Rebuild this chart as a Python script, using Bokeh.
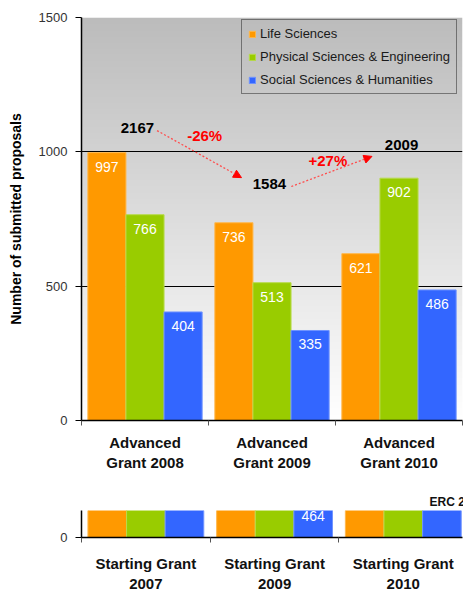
import numpy as np
from bokeh.plotting import figure
from bokeh.layouts import column
from bokeh.models import (Range1d, FixedTicker, ColumnDataSource, Legend, LegendItem,
                          Arrow, NormalHead)
from bokeh.core.properties import value
from bokeh.embed import file_html
from bokeh.resources import INLINE

FONT = "Liberation Sans"

# Advanced Grant calls: submitted proposals per domain
adv_calls = ["Advanced\nGrant 2008", "Advanced\nGrant 2009", "Advanced\nGrant 2010"]
adv_life = [997, 736, 621]
adv_phys = [766, 513, 902]
adv_soc = [404, 335, 486]
adv_change = ["-26%", "+27%"]

# Starting Grant calls: submitted proposals per domain
stg_calls = ["Starting Grant\n2007", "Starting Grant\n2009", "Starting Grant\n2010"]
stg_life = [3384, 860, 1034]
stg_phys = [3897, 1179, 1223]
stg_soc = [1886, 464, 616]

domains = ["Life Sciences", "Physical Sciences & Engineering", "Social Sciences & Humanities"]
colors = ["#FF9900", "#99CC00", "#3366FF"]
edge_colors = ["#FFB84D", "#B8DB4D", "#7094FF"]

offsets = [-0.3, 0.0, 0.3]
bar_w = 0.3
LABEL_DROP = 14  # value labels sit this many pixels under the bar top


def style_axes(fig, calls, y_ticks, centers, n_bounds, standoff):
    fig.xaxis.ticker = FixedTicker(ticks=list(centers), minor_ticks=list(range(n_bounds)))
    fig.xaxis.major_label_overrides = {float(c): lab for c, lab in zip(centers, calls)}
    fig.xaxis.major_tick_out = 0
    fig.xaxis.major_tick_in = 0
    fig.xaxis.minor_tick_out = 5
    fig.xaxis.minor_tick_in = 0
    fig.xaxis.minor_tick_line_color = "#555555"
    fig.xaxis.major_label_standoff = standoff
    fig.xaxis.major_label_text_font = FONT
    fig.xaxis.major_label_text_font_size = "15px"
    fig.xaxis.major_label_text_font_style = "bold"
    fig.xaxis.major_label_text_color = "#111111"
    fig.xaxis.axis_line_color = "black"
    fig.xaxis.axis_line_width = 1.5

    fig.yaxis.ticker = FixedTicker(ticks=y_ticks)
    fig.yaxis.minor_tick_line_color = None
    fig.yaxis.major_tick_out = 6
    fig.yaxis.major_tick_in = 0
    fig.yaxis.major_tick_line_color = "black"
    fig.yaxis.major_label_standoff = 8
    fig.yaxis.major_label_text_font = FONT
    fig.yaxis.major_label_text_font_size = "13px"
    fig.yaxis.major_label_text_color = "#333333"
    fig.yaxis.axis_line_color = "black"
    fig.yaxis.axis_line_width = 1.5


def draw_bars(fig, series_list, centers, label_max=None):
    items = []
    for series, color, edge, off, name in zip(series_list, colors, edge_colors, offsets, domains):
        src = ColumnDataSource(dict(x=centers + off, top=series))
        r = fig.vbar(x="x", top="top", width=bar_w, source=src,
                     fill_color=color, line_color=edge, line_width=1)
        # value labels, only for bars whose label falls inside the shown window
        shown = [(x, v) for x, v in zip(centers + off, series)
                 if label_max is None or v <= label_max]
        if shown:
            fig.text(x=[s[0] for s in shown], y=[s[1] for s in shown],
                     text=[str(s[1]) for s in shown], text_color="white",
                     text_font=value(FONT), text_font_size="14px",
                     text_align="center", text_baseline="middle", y_offset=LABEL_DROP)
        items.append(LegendItem(label=name, renderers=[r]))
    return items


# ---------------- Advanced Grants ----------------
adv_centers = np.arange(len(adv_calls)) + 0.5
p = figure(width=463, height=490, x_range=Range1d(0, 3), y_range=Range1d(0, 1500),
           output_backend="svg", toolbar_location=None,
           min_border_left=79, min_border_right=1, min_border_top=17, min_border_bottom=70)
p.outline_line_color = None
p.background_fill_color = "white"

# grey-to-white vertical gradient behind the plot
rows = 256
shade = np.linspace(255, 188, rows)
rgba = np.zeros((rows, 2, 4), dtype=np.uint8)
rgba[..., 0] = shade[:, None]
rgba[..., 1] = shade[:, None]
rgba[..., 2] = shade[:, None]
rgba[..., 3] = 255
gradient = rgba.view(np.uint32).reshape(rows, 2)
p.image_rgba(image=[gradient], x=0, y=0, dw=3, dh=1500, level="image")

legend_items = draw_bars(p, [adv_life, adv_phys, adv_soc], adv_centers)

style_axes(p, adv_calls, [0, 500, 1000, 1500], adv_centers, 4, standoff=8)
p.yaxis.axis_label = "Number of submitted proposals"
p.yaxis.axis_label_text_font = FONT
p.yaxis.axis_label_text_font_size = "14px"
p.yaxis.axis_label_text_font_style = "bold"
p.yaxis.axis_label_text_color = "black"
p.yaxis.axis_label_standoff = 12

p.xgrid.grid_line_color = None
p.ygrid.ticker = FixedTicker(ticks=[500, 1000])
p.ygrid.grid_line_color = "black"
p.ygrid.grid_line_width = 1

legend = Legend(items=legend_items, location=(160, 326), orientation="vertical",
                glyph_width=8, glyph_height=8, label_height=14, spacing=8, padding=6,
                label_standoff=4, margin=0,
                label_text_font=FONT, label_text_font_size="13px",
                label_text_color="#1a1a1a",
                background_fill_alpha=0, border_line_color="#222222", border_line_width=1)
p.add_layout(legend)

# call totals and change between calls
totals = [a + b + c for a, b, c in zip(adv_life, adv_phys, adv_soc)]
total_x = [0.44, 1.48, 2.52]
total_y = [1090, 882, 1027]
p.text(x=total_x, y=total_y, text=[str(t) for t in totals], text_color="black",
       text_font=value(FONT), text_font_size="15px", text_font_style="bold",
       text_align="center", text_baseline="middle")

change_x = [0.97, 1.94]
change_y = [1061, 968]
p.text(x=change_x, y=change_y, text=adv_change, text_color="#FF0000",
       text_font=value(FONT), text_font_size="15px", text_font_style="bold",
       text_align="center", text_baseline="middle")

arrow_paths = [(0.595, 1079, 1.26, 904), (1.652, 871, 2.287, 983)]
for x0, y0, x1, y1 in arrow_paths:
    p.add_layout(Arrow(end=NormalHead(size=8, fill_color="#FF0000", line_color="#FF0000"),
                       x_start=x0, y_start=y0, x_end=x1, y_end=y1,
                       line_color="#FF4D4D", line_dash="2 2", line_width=1.3))

# ---------------- Starting Grants ----------------
stg_centers = np.arange(len(stg_calls)) + 0.5
stg_top = 353
stg_frame_h = 32
q = figure(width=463, height=104, x_range=Range1d(0, 2.96), y_range=Range1d(0, stg_top),
           output_backend="svg", toolbar_location=None, title="ERC 2010",
           min_border_left=81, min_border_right=0, min_border_top=20, min_border_bottom=52)
q.title.align = "left"
q.title.offset = 348
q.title.standoff = 4
q.title.text_font = FONT
q.title.text_font_size = "12px"
q.title.text_font_style = "bold"
q.title.text_color = "#111111"
q.outline_line_color = None
q.background_fill_color = "white"
q.grid.grid_line_color = None
label_max = (stg_frame_h + LABEL_DROP + 5) * stg_top / stg_frame_h
draw_bars(q, [stg_life, stg_phys, stg_soc], stg_centers, label_max=label_max)
style_axes(q, stg_calls, [0], stg_centers, 4, standoff=12)

layout = column(p, q, spacing=0)
open("out.html", "w").write(file_html(layout, INLINE))
